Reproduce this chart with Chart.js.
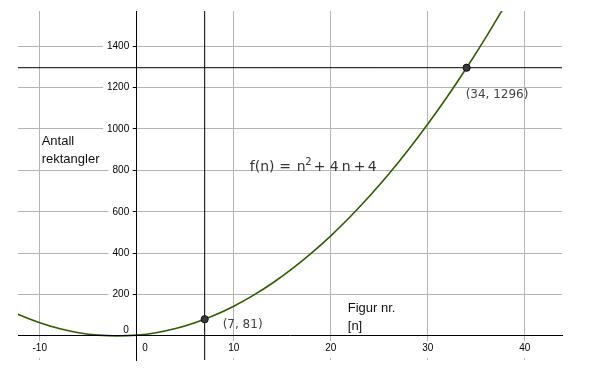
<!DOCTYPE html>
<html>
<head>
<meta charset="utf-8">
<script src="https://cdn.jsdelivr.net/npm/chart.js@4/dist/chart.umd.min.js"></script>
<style>
  html, body { margin: 0; padding: 0; background: #fff; }
</style>
</head>
<body>
<canvas id="graph" width="605" height="376"></canvas>
<script>
const curveN = [-14, -12, -10, -8, -6, -4, -2, 0, 2, 4, 6, 8, 10, 12, 14, 16, 18, 20, 22, 24, 26, 28, 30, 32, 34, 36, 38];
const curveValue = [144, 100, 64, 36, 16, 4, 0, 4, 16, 36, 64, 100, 144, 196, 256, 324, 400, 484, 576, 676, 784, 900, 1024, 1156, 1296, 1444, 1600];

// marked points
const markN = [7, 34];
const markValue = [81, 1296];

// axis ranges and ticks
const xRange = [-12.24, 43.83];
const yRange = [-116, 1570];
const xStep = 10;
const yStep = 200;

const formulaText = 'f(n) = n² + 4 n + 4';
const yCaption = ['Antall', 'rektangler'];
const xCaption = ['Figur nr.', '[n]'];

const tickFont = { family: 'Liberation Sans', size: 10 };
const gridColor = '#b4b4b4';

const curvePoints = curveN.map((n, i) => ({ x: n, y: curveValue[i] }));
const markPoints = markN.map((n, i) => ({ x: n, y: markValue[i] }));

const notes = {
    id: 'notes',
    afterDatasetsDraw(chart) {
        const ctx = chart.ctx;
        const x = chart.scales.x;
        const y = chart.scales.y;
        ctx.save();

        // origin label of the value axis sits just above the n axis
        ctx.fillStyle = '#000';
        ctx.font = '10px "Liberation Sans"';
        ctx.textAlign = 'right';
        ctx.textBaseline = 'middle';
        ctx.fillText('0', x.getPixelForValue(0) - 8, y.getPixelForValue(0) - 6);

        ctx.textBaseline = 'alphabetic';
        ctx.textAlign = 'left';

        // point labels
        ctx.fillStyle = '#444';
        ctx.font = '12px "DejaVu Sans"';
        ctx.fillText('(' + markN[0] + ', ' + markValue[0] + ')',
            x.getPixelForValue(markN[0]) + 18, y.getPixelForValue(markValue[0]) + 9);
        ctx.fillText('(' + markN[1] + ', ' + markValue[1] + ')',
            x.getPixelForValue(markN[1]) - 1, y.getPixelForValue(markValue[1]) + 30);

        // axis captions
        ctx.fillStyle = '#111';
        ctx.font = '13px "Liberation Sans"';
        yCaption.forEach((t, i) => ctx.fillText(t, x.getPixelForValue(-9.8), y.getPixelForValue(925) + i * 18));
        xCaption.forEach((t, i) => ctx.fillText(t, x.getPixelForValue(21.75), y.getPixelForValue(115) + i * 18));

        // formula, laid out token by token
        const fx = x.getPixelForValue(11.65);
        const fy = y.getPixelForValue(797);
        const parts = formulaText.replace('²', ' ² ').split(' ').filter(s => s);
        const offsets = [0, 29.5, 47, 55.5, 64, 80, 92, 104, 118];
        ctx.fillStyle = '#333';
        parts.forEach((t, i) => {
            if (t === '²') {
                ctx.font = '10px "DejaVu Sans"';
                ctx.fillText('2', fx + offsets[i], fy - 6.5);
            } else {
                ctx.font = '14px "DejaVu Sans"';
                ctx.fillText(t, fx + offsets[i], fy);
            }
        });
        ctx.restore();
    }
};

const config = {
    type: 'scatter',
    data: {
        datasets: [{
            label: 'f(n)',
            data: curvePoints,
            showLine: true,
            borderColor: '#2f5d00',
            borderWidth: 1.6,
            pointRadius: 0,
            tension: 0.4,
            order: 2,
        },
        {
            label: 'n = 7',
            data: [{ x: markN[0], y: yRange[0] }, { x: markN[0], y: yRange[1] }],
            showLine: true,
            borderColor: '#000',
            borderWidth: 1,
            pointRadius: 0,
            order: 3,
        },
        {
            label: 'f = 1296',
            data: [{ x: xRange[0], y: markValue[1] }, { x: xRange[1], y: markValue[1] }],
            showLine: true,
            borderColor: '#000',
            borderWidth: 1,
            pointRadius: 0,
            order: 3,
        },
        {
            label: 'points',
            data: markPoints,
            pointRadius: 3.6,
            backgroundColor: '#383838',
            borderColor: '#111',
            borderWidth: 1,
            order: 1,
        }]
    },
    options: {
        responsive: false,
        animation: false,
        devicePixelRatio: 1,
        layout: {
            padding: { left: 18, top: 11, right: 43, bottom: 16 },
        },
        plugins: {
            legend: { display: false },
            tooltip: { enabled: false },
        },
        scales: {
            x: {
                type: 'linear',
                position: { y: 0 },
                min: xRange[0],
                max: xRange[1],
                grid: {
                    color: ctx => ctx.tick && ctx.tick.value === 0 ? 'rgba(0,0,0,0)' : gridColor,
                    tickLength: 4,
                    tickColor: gridColor,
                },
                border: { color: '#000', width: 1, z: 1 },
                ticks: {
                    stepSize: xStep,
                    includeBounds: false,
                    maxRotation: 0,
                    padding: 2,
                    font: tickFont,
                    color: '#000',
                    showLabelBackdrop: true,
                    backdropColor: '#fff',
                    backdropPadding: { top: 1, bottom: 4, left: 2, right: 2 },
                    callback: v => v === 0 ? '      0' : String(v),
                },
            },
            y: {
                type: 'linear',
                position: { x: 0 },
                min: yRange[0],
                max: yRange[1],
                grid: {
                    color: ctx => ctx.tick && ctx.tick.value === 0 ? 'rgba(0,0,0,0)' : gridColor,
                    tickLength: 4,
                    tickColor: '#000',
                },
                border: { color: '#000', width: 1, z: 1 },
                ticks: {
                    stepSize: yStep,
                    includeBounds: false,
                    padding: 3,
                    font: tickFont,
                    color: '#000',
                    showLabelBackdrop: true,
                    backdropColor: '#fff',
                    backdropPadding: { top: 1, bottom: 1, left: 4, right: -4 },
                    // trailing gap keeps the numbers clear of the axis tick; 0 is drawn by the notes plugin
                    callback: v => v === 0 ? '' : String(v) + '  \u2009',
                },
            },
        },
    },
    plugins: [notes],
};

new Chart(document.getElementById('graph'), config);
</script>
</body>
</html>
